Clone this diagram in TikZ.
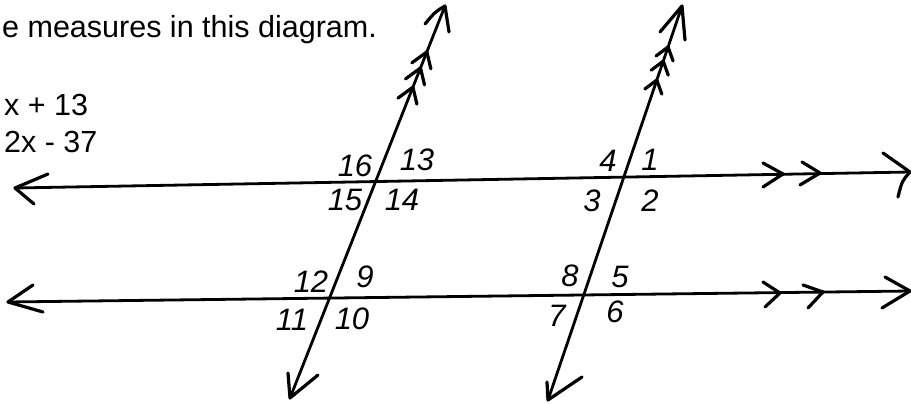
\documentclass[tikz,border=0pt]{standalone}
\usepackage{fontspec}
\setmainfont{Liberation Sans}
\usetikzlibrary{calc}
\begin{document}
\begin{tikzpicture}[x=1pt,y=-1pt,
  ln/.style={line width=2.8pt, line cap=round, line join=round},
  mk/.style={line width=3.2pt, line cap=round, line join=round},
  lbl/.style={inner sep=0pt, font=\fontsize{31}{34}\selectfont\itshape},
  txt/.style={inner sep=0pt, anchor=base west, font=\fontsize{30.5}{34}\selectfont}]
\useasboundingbox (0,0) rectangle (911,404);

% texts
\node[txt] (q) at (2,38) {e measures in this diagram.};
\node[txt] (e1) at (4,115) {x + 13};
\node[txt] (e2) at (4,152) {2x - 37};

% line end points
\coordinate (h1l) at (15,188); \coordinate (h1r) at (910,172);
\coordinate (h2l) at (8,302);  \coordinate (h2r) at (910,291);
\coordinate (t1t) at (445,6);  \coordinate (t1b) at (290,398);
\coordinate (t2t) at (682,6);  \coordinate (t2b) at (548,400);

% lines
\draw[ln] (h1l) -- (h1r);
\draw[ln] (h2l) -- (h2r);
\draw[ln] (t1t) -- (t1b);
\draw[ln] (t2t) -- (t2b);

% arrow heads (hand drawn)
\draw[mk] (48,174) -- (h1l) -- (34,204);
\draw[mk] (33,285) -- (h2l) -- (43,312);
\draw[mk] (883,153) -- (h1r) .. controls (902,181) .. (898,197);
\draw[mk] (885,277) -- (h2r) -- (882,308);
\draw[mk] (425,24) .. controls (435,12) .. (t1t) -- (449,32);
\draw[mk] (660,32) -- (t2t) -- (685,40);
\draw[mk] (288,373) -- (t1b) -- (318,375);
\draw[mk] (547,382) -- (t2b) -- (582,377);

% parallel marks on horizontals
\draw[mk] (763,163) -- (783,174) -- (763,187);
\draw[mk] (802,162) -- (820,173) -- (800,185);
\draw[mk] (763,282) -- (780,293) -- (765,307);
\draw[mk] (803,285) -- (823,292) -- (808,308);

% parallel marks on transversals
\foreach \f in {0.117,0.158,0.207}{
  \coordinate (a) at ($(t1t)!\f!(t1b)$);
  \draw[mk] ($(a)+(-15,11)$) -- (a) -- ($(a)+(4,17)$);
}
\foreach \f in {0.104,0.140,0.188}{
  \coordinate (b) at ($(t2t)!\f!(t2b)$);
  \draw[mk] ($(b)+(-12,9)$) -- (b) -- ($(b)+(5,14)$);
}

% angle labels
\node[lbl] (n16) at (355,166) {16};
\node[lbl] (n13) at (417,160) {13};
\node[lbl] (n15) at (345,200) {15};
\node[lbl] (n14) at (402,200) {14};
\node[lbl] (n4)  at (608,161) {4};
\node[lbl] (n1)  at (650,160) {1};
\node[lbl] (n3)  at (592,201) {3};
\node[lbl] (n2)  at (650,201) {2};
\node[lbl] (n12) at (311,282) {12};
\node[lbl] (n9)  at (365,277) {9};
\node[lbl] (n11) at (292,320) {11};
\node[lbl] (n10) at (352,319) {10};
\node[lbl] (n8)  at (570,276) {8};
\node[lbl] (n5)  at (620,277) {5};
\node[lbl] (n7)  at (557,316) {7};
\node[lbl] (n6)  at (615,312) {6};
\end{tikzpicture}
\end{document}
